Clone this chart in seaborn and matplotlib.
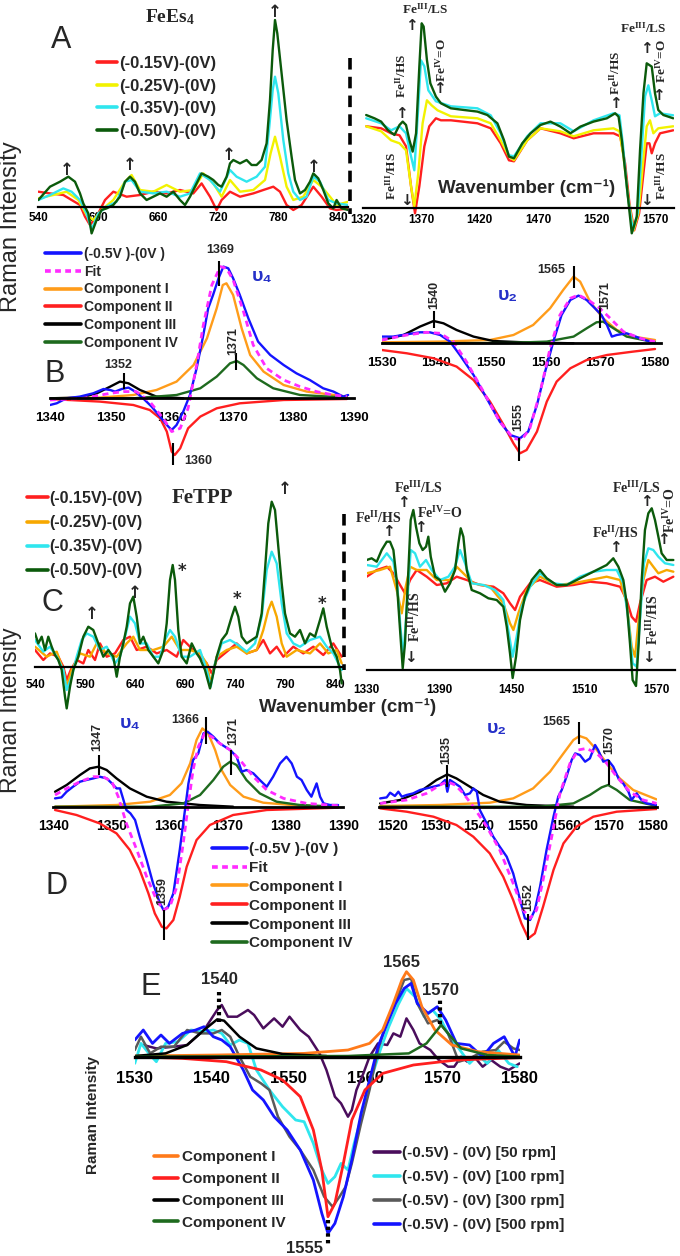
import seaborn as sns
import matplotlib.pyplot as plt
from matplotlib.lines import Line2D

W, H = 680, 1256
sns.set_style("white")
plt.rcParams['font.family'] = ['Liberation Sans', 'DejaVu Sans']
plt.rcParams['mathtext.fontset'] = 'custom'
plt.rcParams['mathtext.rm'] = 'Liberation Serif:bold'
plt.rcParams['mathtext.bf'] = 'Liberation Serif:bold'
plt.rcParams['mathtext.it'] = 'Liberation Serif:bold'

# ---------------- data (wavenumber, height) ----------------
# A: FeEs4, low-frequency window
a1_red = [(540, 15), (551.7, 13.3), (565, 11.7), (573.3, 6.7), (581.7, 1.7), (586.7, -10), (591.7, -18.3), (598.3, -10),
          (606.7, 6.7), (615, 15), (628.3, 10), (641.7, 11.7), (655, 15), (668.3, 13.3), (681.7, 16.7), (695, 13.3),
          (703.3, 23.3), (711.7, 10), (718.3, -3.3), (723.3, 6.7), (731.7, 15), (741.7, 10), (755, 13.3), (765, 16.7),
          (775, 20), (781.7, 15), (788.3, 1.7), (795, -3.3), (803.3, 1.7), (815, 20), (823.3, 10), (831.7, -1.7),
          (838.3, -3.3), (850, -1.7)]
a1_yellow = [(540, 8.3), (555, 11.7), (568.3, 15), (580, 6.7), (588.3, -8.3), (595, -13.3), (603.3, -3.3), (615, 6.7),
             (626.7, 25), (633.3, 31.7), (641.7, 16.7), (655, 15), (668.3, 21.7), (681.7, 15), (695, 16.7), (705, 33.3),
             (715, 23.3), (723.3, 10), (731.7, 26.7), (741.7, 15), (755, 16.7), (766.7, 26.7), (772.3, 53.3), (776.7, 70),
             (781.7, 50), (788.3, 20), (795, 6.7), (805, 10), (815, 26.7), (823.3, 20), (831.7, 10), (838.3, 1.7), (850, 5)]
a1_cyan = [(540, 6.7), (551.7, 11.7), (565, 18.3), (573.3, 15), (581.7, 6.7), (588.3, -6.7), (593.3, -23), (600, -6.7),
           (608.3, 0), (618.3, 5), (626.7, 25), (633.3, 26.7), (641.7, 15), (655, 13.3), (668.3, 15), (681.7, 10),
           (691.7, 13.3), (701.7, 33.3), (711.7, 26.7), (721.7, 15), (731.7, 36.7), (738.3, 30), (748.3, 25), (758.3, 30),
           (766.7, 40), (771, 80), (774.4, 116.7), (776.7, 130), (780, 113.3), (785, 66.7), (790, 33.3), (795, 15),
           (801.7, 6.7), (808.3, 10), (815, 30), (821.7, 25), (830, 6.7), (838.3, 3.3), (850, 1.7)]
a1_green = [(540, 6.7), (551.7, 20), (561.7, 25), (570, 30), (576.7, 25), (581.7, 13.3), (585, 3.3), (590, -6.7),
            (593.3, -26.7), (598.3, -13.3), (603.3, -3.3), (608.3, -1.7), (615, 1.7), (621.7, 10), (626.7, 25),
            (631.7, 30), (636.7, 25), (641.7, 13.3), (648.3, 6.7), (655, 10), (661.7, 13.3), (668.3, 10), (675, 15),
            (681.7, 6.7), (686.7, 1.7), (691.7, 10), (698.3, 23.3), (703.3, 33.3), (710, 30), (715, 26.7), (720, 21.7),
            (723.3, 20), (728.3, 30), (731.7, 43.3), (735, 46.7), (741.7, 43.3), (748.3, 46.7), (753.3, 41.7),
            (758.3, 41.7), (763.3, 46.7), (768.3, 63.3), (771.7, 106.7), (774.4, 156.7), (776.7, 186.7), (779, 173.3),
            (783.3, 133.3), (788.3, 86.7), (793.3, 50), (796.7, 26.7), (801.7, 13.3), (806.7, 16.7), (811.7, 25),
            (815, 33.3), (820, 28.3), (825, 16.7), (830, 3.3), (835, -1.7), (838.3, 6.7), (843.3, -1.7), (850, -3.3)]

# A: FeEs4, high-frequency window
a2_red = [(1322.8, 82), (1335.6, 80), (1344.1, 75), (1351.3, 73), (1356.9, 62), (1361.2, 22), (1364.6, -5), (1368.3, 22),
          (1372.6, 62), (1376.8, 82), (1382.5, 90), (1386.8, 88), (1395.3, 88), (1418, 85), (1429.4, 80), (1437.9, 65),
          (1445, 48), (1449.3, 47), (1460.6, 68), (1472, 80), (1489, 75), (1500.4, 70), (1517.4, 75), (1534.5, 75),
          (1540.2, 72), (1544.4, 45), (1548.1, 5), (1552.2, -22), (1556.4, -5), (1560.1, 35), (1562.9, 65),
          (1565.2, 65), (1567.2, 55), (1570, 65), (1574.3, 75), (1585.6, 78)]
a2_yellow = [(1322.8, 82), (1335.6, 77), (1344.1, 68), (1351.3, 65), (1356.9, 58), (1361.2, 22), (1364, 2), (1367.4, 35),
             (1371.1, 85), (1374.8, 108), (1378.8, 103), (1383.9, 98), (1395.3, 92), (1418, 90), (1429.4, 85),
             (1437.9, 68), (1445, 52), (1449.3, 48), (1460.6, 68), (1472, 80), (1489, 77), (1500.4, 72), (1517.4, 78),
             (1534.5, 80), (1539.6, 77), (1543, 52), (1547.3, 8), (1551.6, -22), (1555.8, -5), (1559.5, 42),
             (1562.9, 82), (1565.7, 88), (1568.6, 75), (1572.8, 80), (1585.6, 82)]
a2_cyan = [(1322.8, 90), (1335.6, 85), (1344.1, 78), (1351.3, 82), (1356.9, 75), (1361.2, 52), (1364, 38), (1366.9, 92),
           (1369.7, 148), (1372.6, 142), (1376, 118), (1382.5, 107), (1395.3, 102), (1418, 100), (1429.4, 93),
           (1437.9, 75), (1445, 53), (1449.3, 52), (1460.6, 72), (1472, 85), (1489, 85), (1500.4, 77), (1517.4, 88),
           (1534.5, 95), (1539.6, 93), (1542.4, 65), (1546.4, 15), (1551, -22), (1555.2, -5), (1558.6, 58),
           (1561.5, 112), (1564.3, 123), (1567.2, 108), (1570, 92), (1574.3, 95), (1585.6, 93)]
a2_green = [(1322.8, 93.3), (1329.9, 90), (1335.6, 86.7), (1341.3, 78.3), (1347, 73.3), (1351.3, 83.3), (1354.1, 86.7),
            (1356.9, 83.3), (1359.8, 68.3), (1362.6, 56.7), (1365.5, 75), (1368.3, 141.7), (1370.3, 185), (1372, 181.7),
            (1374.8, 148.3), (1377.7, 125), (1382.5, 111.7), (1386.8, 105), (1395.3, 100), (1406.6, 98.3),
            (1418, 96.7), (1426.5, 93.3), (1435.1, 85), (1440.7, 68.3), (1445, 51.7), (1449.3, 50), (1456.4, 65),
            (1463.5, 75), (1472, 83.3), (1480.5, 86.7), (1489, 81.7), (1497.6, 75), (1506.1, 81.7), (1517.4, 86.7),
            (1528.8, 90), (1535.9, 95), (1538.8, 91.7), (1541.6, 68.3), (1545.9, 21.7), (1550.1, -25), (1554.4, -8.3),
            (1557.2, 58.3), (1560.1, 115), (1562.9, 145), (1567.2, 141.7), (1570, 115), (1572.8, 98.3),
            (1577.1, 93.3), (1585.6, 90)]

# B: fit of FeEs4, nu4 and nu2
b1_data = [(1340, -6.7), (1341.1, -5), (1342.7, 0), (1344.9, 1.7), (1347.1, 5), (1348.8, 9.3), (1349.9, 8.3),
           (1350.7, 6.7), (1351.8, 9.3), (1352.9, 10.7), (1354, 6.7), (1355.3, 0), (1356.7, -8.3), (1358.1, -18.3),
           (1359.2, -26.7), (1360, -31.7), (1360.8, -26.7), (1361.9, -13.3), (1363, 3.3), (1364.1, 30), (1365.2, 63.3),
           (1366, 90), (1366.8, 103.3), (1367.7, 120), (1368.5, 131.7), (1369.3, 130), (1370.1, 120), (1371.2, 103.3),
           (1372.6, 80), (1374.2, 56.7), (1376.2, 43.3), (1378.4, 33.3), (1380.5, 25), (1382.7, 18.3), (1384.9, 10),
           (1386.6, 6.7), (1388.2, 1.7), (1389, 3.3)]
b1_fit = [(1340, -1.7), (1345.5, 0), (1349.9, 5), (1352.1, 6.7), (1354.2, 6.7), (1356.4, -3.3), (1358.6, -20),
          (1360, -33.3), (1361.4, -30), (1362.7, -10), (1364.1, 33.3), (1365.2, 73.3), (1366.6, 113.3), (1368, 131.7),
          (1369, 130), (1370.1, 118.3), (1371.8, 86.7), (1373.4, 53.3), (1375.6, 30), (1378.4, 18.3), (1381.1, 11.7),
          (1383.8, 6.7), (1386.6, 3.3), (1388.8, 1.7)]
b1_c1 = [(1340, 0), (1348.2, 0.7), (1353.7, 3.3), (1357.5, 8.3), (1360.8, 16.7), (1363.6, 33.3), (1365.8, 60),
         (1367.4, 90), (1368.4, 113.3), (1369, 115), (1370.1, 103.3), (1371.5, 70), (1372.9, 43.3), (1375.1, 26.7),
         (1378.4, 13.3), (1382.2, 6.7), (1388.8, 1.7)]
b1_c2 = [(1340, -0.7), (1348.2, -3.3), (1353.7, -6.7), (1356.4, -11.7), (1358.1, -20), (1359.2, -33.3), (1360, -53.3),
         (1360.5, -56.7), (1361.4, -50), (1362.7, -30), (1364.7, -18.3), (1367.4, -10), (1371.2, -5), (1378.4, -1.7),
         (1388.8, -0.7)]
b1_c3 = [(1340, 0), (1344.9, 0.7), (1347.7, 5), (1349.9, 11.7), (1351.5, 16.7), (1352.9, 15), (1354.8, 8.3),
         (1357.5, 1.7), (1361.9, 0)]
b1_c4 = [(1340, 0), (1353.7, 0), (1360.8, 3.3), (1364.7, 10), (1367.4, 21.7), (1369.6, 35), (1370.7, 37.3),
         (1371.8, 33.3), (1374, 20), (1376.7, 10), (1381.1, 3.3), (1388.8, 0.7)]

b2_data = [(1530, 6.7), (1532.1, 6.7), (1534.6, 9), (1537, 11), (1538.8, 11), (1540.7, 8.3), (1542.5, 1.7),
           (1544.3, -11.7), (1546.8, -31.7), (1549.2, -55), (1551.6, -78.3), (1553.5, -91.7), (1555.3, -95),
           (1556.8, -88.3), (1558.4, -61.7), (1559.9, -28.3), (1561.4, 1.7), (1562.9, 28.3), (1564.5, 43.3),
           (1566, 47.7), (1567.5, 43.3), (1569, 35), (1570.2, 28.3), (1571.2, 18.3), (1572.1, 6.7), (1573, 8.3),
           (1574.8, 10), (1577.3, 5), (1580, 0)]
b2_fit = [(1530, 3.3), (1534.6, 8.3), (1538.2, 11), (1540.7, 10), (1543.1, 1.7), (1545.5, -18.3), (1548.6, -48.3),
          (1551.6, -78.3), (1554.1, -95), (1555.6, -96.7), (1557.1, -85), (1559, -48.3), (1560.8, -5), (1562.6, 28.3),
          (1564.5, 45), (1566, 48.3), (1567.8, 43.3), (1569.9, 35), (1571.8, 25), (1574.2, 11.7), (1577.3, 5),
          (1580, 1.7)]
b2_c1 = [(1530, 1), (1540.7, 1.7), (1549.8, 3.3), (1554.1, 8.3), (1557.7, 18.3), (1560.8, 35), (1563.2, 53.3),
         (1565.1, 66.7), (1566.3, 61.7), (1568.1, 41.7), (1570.5, 25), (1573, 13.3), (1576, 6.7), (1580, 3.3)]
b2_c2 = [(1530, -6.7), (1534.6, -10), (1539.5, -15), (1543.7, -23.3), (1546.8, -36.7), (1549.8, -58.3),
         (1552.3, -81.7), (1554.1, -100), (1555.3, -110), (1556.5, -106.7), (1558.4, -88.3), (1560.2, -58.3),
         (1562, -38.3), (1564.5, -25), (1567.5, -16.7), (1571.2, -11.7), (1576, -8.3), (1580, -5.7)]
b2_c3 = [(1530, 3.3), (1534, 8.3), (1537, 16.7), (1539.5, 22.3), (1541.3, 20), (1543.7, 13.3), (1546.8, 6.7),
         (1550.4, 2.3), (1555.9, 1), (1565.1, 0)]
b2_c4 = [(1530, 0), (1552.9, 0.3), (1560.2, 1.7), (1565.1, 6.7), (1567.5, 15), (1569.3, 21), (1570.5, 21.7),
         (1572.4, 15), (1574.8, 6.7), (1580, 1)]

# C: FeTPP
c1_red = [(540, 16.7), (548.3, 6.7), (555, 13.3), (563.3, 10), (568.3, 0), (571.7, -13.3), (575.7, -3.3), (581.7, 6.7),
          (588.3, 3.3), (593.3, 16.7), (600, 6.7), (605, 23.3), (611.7, 10), (620, 13.3), (628.3, 26.7), (635, 30),
          (641.7, 16.7), (651.7, 20), (661.7, 13.3), (671.7, 16.7), (681.7, 10), (688.3, 26.7), (698.3, 16.7),
          (705, 10), (711.7, 3.3), (716.7, -6.7), (721.7, 6.7), (731.7, 15), (741.7, 23.3), (751.7, 13.3),
          (761.7, 16.7), (768.3, 26.7), (775, 13.3), (781.7, 20), (788.3, 10), (798.3, 20), (808.3, 13.3),
          (818.3, 20), (828.3, 11.7), (838.3, 23.3), (846.7, 10)]
c1_orange = [(540, 20), (551.7, 10), (561.7, 15), (568.3, -3.3), (571.7, -20), (576.7, -3.3), (585, 13.3), (595, 10),
             (601.7, 23.3), (611.7, 13.3), (621.7, 10), (631.7, 23.3), (638.3, 30), (645, 16.7), (658.3, 16.7),
             (668.3, 20), (676.7, 30), (685, 16.7), (695, 16.7), (705, 13.3), (711.7, 3.3), (715.7, -16.7),
             (721.7, 10), (731.7, 16.7), (741.7, 20), (751.7, 13.3), (761.7, 16.7), (768.3, 36.7), (773.3, 56.7),
             (776.7, 65), (781.7, 50), (786.7, 23.3), (791.7, 10), (801.7, 16.7), (815, 13.3), (825, 23.3),
             (833.3, 13.3), (841.7, 16.7), (846.7, 3.3)]
c1_cyan = [(540, 26.7), (548.3, 15), (555, 20), (561.7, 10), (568.3, -3.3), (571.7, -23.3), (576.7, -10), (581.7, 10),
           (586.7, 26.7), (591.7, 33.3), (598.3, 30), (605, 16.7), (611.7, 20), (620, 3.3), (625, 10), (630, 30),
           (635, 50), (640, 43.3), (645, 23.3), (651.7, 23.3), (658.3, 10), (665, 10), (670, 26.7), (675, 36.7),
           (680, 30), (686.7, 10), (695, 10), (705, 16.7), (711.7, -3.3), (715.7, -20), (720, 3.3), (726.7, 23.3),
           (735, 26.7), (743.3, 21.7), (751.7, 15), (760, 23.3), (766.7, 50), (771.7, 96.7), (776.7, 115),
           (781.7, 103.3), (786.7, 63.3), (791.7, 33.3), (798.3, 23.3), (805, 20), (815, 26.7), (825, 30),
           (831.7, 20), (838.3, 13.3), (846.7, -3.3)]
c1_green = [(540, 33.3), (543.3, 23.3), (546.7, 30), (550, 16.7), (553.3, 30), (556.7, 20), (560, 11.7), (563.3, 6.7),
            (566.7, -3.3), (570, -30), (571.7, -41.7), (575, -20), (578.3, -3.3), (583.3, 10), (588.3, 30),
            (593.3, 40), (598.3, 36.7), (603.3, 23.3), (608.3, 10), (613.3, 16.7), (618.3, 10), (621.7, -10),
            (625, 10), (628.3, 23.3), (631.7, 40), (635, 63.3), (638.3, 70), (641.7, 50), (645, 23.3), (648.3, 30),
            (653.3, 16.7), (658.3, 10), (663.3, 3.3), (668.3, 16.7), (671.7, 43.3), (675, 86.7), (677.7, 101.7),
            (680, 86.7), (683.3, 36.7), (686.7, 10), (691.7, 3.3), (696.7, 23.3), (701.7, 13.3), (705, 8.3),
            (710, -3.3), (715, -21.7), (718.3, -6.7), (721.7, 10), (726.7, 26.7), (731.7, 33.3), (736.7, 50),
            (740, 60), (743.3, 50), (746.7, 30), (751.7, 23.3), (756.7, 26.7), (761.7, 30), (766.7, 53.3),
            (770, 96.7), (773.3, 143.3), (776.7, 165), (780, 156.7), (783.3, 120), (786.7, 83.3), (790, 53.3),
            (795, 33.3), (800, 30), (805, 36.7), (810, 23.3), (815, 33.3), (820, 30), (825, 46.7), (828.3, 58.3),
            (831.7, 40), (836.7, 20), (841.7, 10), (845, -3.3), (846.7, -16.7)]

c2_red = [(1330, 93.3), (1338.3, 100), (1346.6, 103.3), (1352.1, 96.7), (1357.6, 85), (1361.7, 76.7), (1365.9, 90),
          (1371.4, 100), (1379.7, 93.3), (1388, 85), (1396.2, 86.7), (1404.5, 93.3), (1412.8, 90), (1423.8, 85),
          (1434.9, 83.3), (1443.1, 76.7), (1448.6, 66.7), (1452.8, 60), (1456.9, 73.3), (1465.2, 86.7), (1473.4, 90),
          (1487.2, 83.3), (1501, 85), (1514.8, 88.3), (1528.6, 86.7), (1539.7, 83.3), (1545.2, 70), (1549.3, 53.3),
          (1552.9, 48.3), (1556.2, 66.7), (1561.7, 90), (1568.6, 93.3), (1575.5, 88.3), (1583.8, 93.3)]
c2_orange = [(1330, 96.7), (1341, 100), (1349.3, 103.3), (1354.8, 80), (1359, 56.7), (1362.3, 83.3), (1365.9, 103.3),
             (1371.4, 100), (1379.7, 100), (1388, 90), (1399, 90), (1404.5, 103.3), (1410, 96.7), (1418.3, 86.7),
             (1432.1, 83.3), (1443.1, 66.7), (1448.6, 46.7), (1451.4, 40), (1455.5, 56.7), (1462.4, 80),
             (1473.4, 93.3), (1487.2, 85), (1501, 86.7), (1514.8, 90), (1528.6, 93.3), (1539.7, 90), (1545.2, 66.7),
             (1549.3, 23.3), (1552.1, 13.3), (1554.8, 46.7), (1559, 90), (1563.1, 110), (1567.2, 103.3),
             (1571.4, 96.7), (1578.3, 100), (1583.8, 98.3)]
c2_cyan = [(1330, 105), (1338.3, 103.3), (1346.6, 116.7), (1352.1, 108.3), (1355.4, 83.3), (1358.1, 40), (1360.3, 13.3),
           (1363.1, 60), (1366.4, 120), (1370, 116.7), (1374.1, 103.3), (1379.1, 110), (1383.8, 100), (1390.7, 90),
           (1397.6, 93.3), (1403.1, 103.3), (1407.2, 120), (1411.4, 106.7), (1416.9, 86.7), (1426.6, 85),
           (1436.2, 80), (1443.1, 70), (1447.2, 40), (1450.8, 13.3), (1454.1, 33.3), (1458.3, 63.3), (1465.2, 83.3),
           (1473.4, 96.7), (1484.5, 86.7), (1495.5, 85), (1506.6, 93.3), (1517.6, 98.3), (1528.6, 100),
           (1536.9, 100), (1542.4, 86.7), (1546.6, 50), (1550.1, 6.7), (1553.4, 3.3), (1556.2, 50), (1559.5, 106.7),
           (1563.1, 121.7), (1567.2, 120), (1571.4, 113.3), (1576.9, 106.7), (1583.8, 105)]
c2_green = [(1330, 110), (1334.1, 111.7), (1338.3, 108.3), (1342.4, 120), (1346.6, 128.3), (1349.3, 128.3),
            (1352.1, 120), (1354.8, 90), (1357.6, 40), (1359.8, 1.7), (1361.7, 26.7), (1364.5, 100), (1366.4, 150),
            (1368.6, 160), (1370.8, 143.3), (1373.6, 126.7), (1376.3, 120), (1379.1, 123.3), (1381, 133.3),
            (1383, 113.3), (1386.6, 93.3), (1390.7, 90), (1394.8, 78.3), (1399, 86.7), (1403.1, 100),
            (1405.9, 126.7), (1407.8, 141.7), (1410, 133.3), (1412.8, 100), (1416.9, 80), (1423.8, 76.7),
            (1430.7, 71.7), (1437.6, 70), (1443.1, 63.3), (1445.9, 43.3), (1448.6, 16.7), (1450.8, -8), (1453.6, 13.3),
            (1456.9, 50), (1461, 73.3), (1466.6, 90), (1473.4, 100), (1479, 91.7), (1487.2, 85), (1495.5, 85),
            (1503.8, 90), (1512.1, 95), (1520.3, 100), (1528.6, 105), (1534.1, 111.7), (1538.3, 103.3),
            (1542.4, 90), (1545.2, 66.7), (1547.9, 26.7), (1550.1, -10), (1552.9, -16), (1555.1, 26.7),
            (1557.6, 90), (1560.3, 140), (1563.1, 156.7), (1565.9, 161.7), (1568.6, 150), (1571.4, 133.3),
            (1574.1, 116.7), (1578.3, 110), (1583.8, 110)]

# D: fit of FeTPP, nu4 and nu2
d1_data = [(1340.3, 8.3), (1341.4, 9.3), (1342.3, 15), (1343.4, 20), (1344.6, 25), (1345.7, 26.7), (1346.9, 28.3),
           (1348, 30), (1349.2, 28.3), (1350.1, 23.3), (1350.9, 18.3), (1351.5, 18.3), (1352.1, 6.7), (1352.6, -3.3),
           (1353.3, -6.7), (1354.1, -13.3), (1354.9, -30), (1356.1, -53.3), (1357.2, -76.7), (1358.4, -96.7),
           (1359, -103.3), (1359.8, -100), (1360.7, -86.7), (1361.8, -43.3), (1362.7, -3.3), (1363.3, 23.3),
           (1364.1, 46.7), (1365, 53.3), (1365.9, 73.3), (1366.6, 75), (1367.6, 70), (1368.7, 63.3), (1370.5, 56.7),
           (1371.6, 50), (1372.5, 35), (1373.3, 36.7), (1374.5, 33.3), (1375.6, 26.7), (1376.8, 20), (1377.9, 30),
           (1379.1, 43.3), (1380.2, 50), (1381.1, 43.3), (1382, 30), (1382.8, 26.7), (1383.7, 16.7), (1384.5, 10),
           (1385.4, 23.3), (1386, 10), (1386.6, 3.3), (1387.7, 1.7), (1389.1, 1.7)]
d1_fit = [(1340.3, 11.7), (1342.3, 18.3), (1344.6, 25), (1346.9, 30), (1348.6, 30), (1350.1, 25), (1351.2, 10),
          (1352.6, -16.7), (1354.4, -43.3), (1356.1, -70), (1357.8, -93.3), (1359, -103.3), (1360.1, -100),
          (1361.3, -80), (1362.4, -36.7), (1363.3, 3.3), (1364.1, 36.7), (1365, 60), (1366.1, 73.3), (1367.3, 70),
          (1368.7, 63.3), (1370.5, 56.7), (1372.2, 46.7), (1374.5, 30), (1376.8, 16.7), (1379.7, 8.3), (1383.7, 3.3),
          (1389.1, 1)]
d1_c1 = [(1340.3, 0), (1350.9, 1.7), (1356.7, 5), (1360.1, 11.7), (1362.1, 23.3), (1363.6, 43.3), (1364.7, 66.7),
         (1365.7, 78.3), (1366.7, 73.3), (1367.9, 56.7), (1369, 36.7), (1370.5, 21.7), (1372.8, 10), (1376.2, 4),
         (1382.5, 1), (1389.1, 0)]
d1_c2 = [(1340.3, -3.3), (1344, -8.3), (1348, -16.7), (1350.9, -26.7), (1353.2, -43.3), (1354.9, -63.3),
         (1356.4, -86.7), (1357.5, -106.7), (1358.7, -120), (1359.5, -121.7), (1360.7, -113.3), (1361.8, -90),
         (1363, -60), (1364.7, -33.3), (1367, -18.3), (1371, -8.3), (1376.8, -3.3), (1389.1, -1)]
d1_c3 = [(1340.3, 15), (1342.3, 21.7), (1344.6, 31.7), (1346.3, 38.3), (1347.8, 40), (1349.2, 36.7), (1350.9, 28.3),
         (1353.2, 18.3), (1356.1, 10), (1359.5, 5), (1365.3, 1.7), (1371, 0)]
d1_c4 = [(1340.3, 0), (1356.7, 0), (1362.4, 3.3), (1365.3, 11.7), (1367.6, 26.7), (1369.3, 40), (1370.5, 45),
         (1371.6, 41.7), (1373.3, 26.7), (1375.6, 13.3), (1378.5, 5), (1382.5, 1.7), (1389.1, 0)]

d2_data = [(1517.2, 8.3), (1518.7, 9.3), (1519.5, 14), (1520.6, 10.7), (1521.4, 15), (1522.2, 10), (1523.3, 11.7),
           (1524.8, 13.3), (1526.4, 16.7), (1527.9, 18.3), (1529.5, 20), (1531, 21.7), (1532.2, 26.7), (1532.7, 15),
           (1533.3, 26.7), (1534.5, 23.3), (1535.6, 20), (1536.8, 11.7), (1537.9, 13.3), (1538.7, 18.3), (1539.5, 15),
           (1540.2, -3.3), (1541.8, -16.7), (1543.3, -30), (1544.8, -40), (1546.4, -50), (1547.9, -66.7),
           (1549.5, -93.3), (1550.6, -111.7), (1551.8, -113.3), (1552.9, -103.3), (1554.1, -80), (1555.6, -43.3),
           (1557.2, -10), (1558.3, 10), (1559.1, 16.7), (1560.2, 30), (1561.4, 46.7), (1562.2, 53.3), (1563.3, 51.7),
           (1564.5, 45), (1565.6, 48.3), (1566.8, 61.7), (1567.5, 56.7), (1568.7, 45), (1569.8, 46.7), (1571, 40),
           (1572.2, 28.3), (1573.3, 23.3), (1574.5, 15), (1575.2, 6.7), (1576.4, 13.3), (1577.5, 6.7),
           (1578.7, 3.3), (1581, 1.7)]
d2_fit = [(1517.2, 3.3), (1523.3, 6.7), (1527.9, 13.3), (1531, 21.7), (1532.7, 25), (1534.5, 21.7), (1536.4, 13.3),
          (1538.7, 0), (1541.8, -20), (1544.8, -43.3), (1547.9, -76.7), (1550.2, -103.3), (1551.8, -111.7),
          (1553.3, -103.3), (1554.8, -73.3), (1556.8, -30), (1558.7, 13.3), (1561, 43.3), (1562.9, 56.7),
          (1564.8, 58.3), (1567.2, 53.3), (1569.5, 43.3), (1571.8, 30), (1574.8, 15), (1577.9, 6.7), (1581, 3.3)]
d2_c1 = [(1517.2, 0.7), (1531, 1.7), (1542.5, 4), (1547.9, 8.3), (1552.5, 18.3), (1556.4, 35), (1559.5, 53.3),
         (1561.8, 66.7), (1563.2, 70.7), (1564.8, 68.3), (1567.2, 56.7), (1569.5, 43.3), (1572.5, 28.3),
         (1575.6, 16.7), (1581, 7.3)]
d2_c2 = [(1517.2, -1.7), (1523.3, -5), (1529.5, -10), (1534.8, -18.3), (1538.7, -30), (1542.5, -46.7), (1545.6, -70),
         (1547.9, -93.3), (1549.8, -116.7), (1551.4, -131.7), (1552.9, -126.7), (1554.8, -100), (1557.2, -63.3),
         (1559.5, -36.7), (1562.5, -20), (1566.4, -10), (1571.8, -5), (1581, -2.3)]
d2_c3 = [(1517.2, 3.3), (1521.8, 6.7), (1526.4, 15), (1530.2, 26.7), (1532.7, 32.3), (1534.8, 28.3), (1537.9, 20),
         (1541, 11.7), (1544.8, 5), (1551, 1.7), (1561.8, 0)]
d2_c4 = [(1517.2, 0), (1554.1, 0), (1561.8, 3.3), (1565.6, 11.7), (1568.3, 19.3), (1569.8, 21.7), (1571.8, 16.7),
         (1574.8, 6.7), (1581, 0.7)]

# E: rotation-rate series with the nu2 components
e_c1 = [(1530, 0.7), (1540.7, 1.7), (1552, 3.3), (1557.7, 6.7), (1560.5, 13.3), (1562.2, 26.7), (1563.6, 53.3),
        (1564.7, 76.7), (1565.3, 85), (1566.2, 76.7), (1567.3, 50), (1569, 26.7), (1571.2, 11.7), (1574.6, 5),
        (1580, 1.7)]
e_c2 = [(1530, 0), (1536.2, -1.7), (1541.9, -5), (1546.4, -13.3), (1549.2, -23.3), (1551.5, -40), (1553.2, -73.3),
        (1554.3, -113.3), (1555.1, -160), (1556, -146.7), (1557.1, -106.7), (1558.2, -63.3), (1559.9, -33.3),
        (1562.2, -16.7), (1566.2, -8.3), (1571.8, -3.3), (1580, -1)]
e_c3 = [(1530, 0.7), (1534, 3.3), (1536.8, 11.7), (1539, 26.7), (1540.7, 37.3), (1541.6, 36), (1543.6, 20),
        (1545.8, 8.3), (1549.2, 2.7), (1554.9, 0.7)]
e_c4 = [(1530, 0), (1557.7, 0.7), (1565.6, 3.3), (1567.9, 13.3), (1569.3, 26.7), (1569.8, 31.7), (1570.7, 23.3),
        (1572.4, 8.3), (1575.8, 1.7), (1580, 0)]
e_50 = [(1531.1, 11.7), (1532.8, 8.3), (1535.1, 10), (1536.8, 11.7), (1539, 26.7), (1540.7, 46.7), (1541.3, 51.7),
        (1542.1, 40), (1543.3, 40), (1544.7, 46.7), (1545.5, 41.7), (1546.7, 28.3), (1548.1, 38.3), (1549.2, 30),
        (1550.1, 40), (1551.5, 26.7), (1552.6, 20), (1554, 3.3), (1554.9, -13.3), (1556, -40), (1556.8, -46.7),
        (1557.7, -60), (1558.2, -53.3), (1558.8, -33.3), (1559.7, -16.7), (1560.5, 0), (1561.6, 13.3),
        (1562.8, 11.7), (1563.6, 23.3), (1564.5, 20), (1565.3, 38.3), (1566.2, 26.7), (1567, 13.3), (1568.4, 6.7),
        (1569.5, -3.3), (1570.7, -10), (1571.5, -10), (1572.4, 0), (1573.2, -5), (1574.1, 0), (1575.2, -10),
        (1576.3, -3.3), (1577.5, -10), (1578.6, -13.3), (1580, -6.7)]
e_100 = [(1530, -6.7), (1530.8, 13.3), (1532, 1.7), (1532.8, -5), (1534, 13.3), (1535.6, 15), (1537.3, 26.7),
         (1539, 25), (1540.2, 26.7), (1541.3, 23.3), (1542.4, 11.7), (1543.6, 16.7), (1544.7, 13.3), (1545.8, -13.3),
         (1547.5, -33.3), (1549.2, -50), (1550.9, -63.3), (1552, -65), (1553.2, -86.7), (1554.3, -113.3),
         (1555.1, -126.7), (1556, -120), (1556.8, -106.7), (1557.7, -113.3), (1558.5, -86.7), (1559.7, -53.3),
         (1560.8, -20), (1561.9, 6.7), (1563, 30), (1564.2, 51.7), (1565.3, 68.3), (1566.4, 60), (1567.6, 40),
         (1568.7, 46.7), (1569.8, 36.7), (1570.9, 20), (1572.1, 8.3), (1573.5, -6.7), (1574.6, 1.7), (1575.8, -6.7),
         (1577.2, 6.7), (1578.6, -6.7), (1579.7, -10)]
e_300 = [(1530, 6.7), (1530.8, 20), (1532, 3.3), (1533.4, 10), (1535.1, 10), (1536.8, 26.7), (1538.5, 23.3),
         (1540.2, 23.3), (1541.3, 26.7), (1542.4, 20), (1543.6, 0), (1545, -20), (1546.4, -26.7), (1547.5, -33.3),
         (1548.6, -60), (1550.1, -80), (1551.5, -93.3), (1553.2, -113.3), (1554.6, -140), (1555.7, -150),
         (1556.6, -140), (1557.4, -130), (1558.2, -106.7), (1559.4, -66.7), (1560.5, -33.3), (1561.6, 6.7),
         (1562.8, 36.7), (1563.9, 55), (1565, 76.7), (1565.9, 78.3), (1566.7, 53.3), (1568.1, 33.3), (1569.3, 36.7),
         (1570.7, 23.3), (1572.1, -5), (1573.5, -1.7), (1575.2, 5), (1576.9, 6.7), (1578, 15), (1579.2, 8.3),
         (1580, 6.7)]
e_500 = [(1530, 16.7), (1531.1, 26.7), (1532.3, 13.3), (1533.4, 21.7), (1534.5, 13.3), (1536.2, 23.3), (1537.9, 26.7),
         (1539, 30), (1540.2, 20), (1541.3, 16.7), (1542.4, 10), (1544.1, -13.3), (1545.3, -33.3), (1546.7, -43.3),
         (1548.1, -60), (1549.8, -73.3), (1551.5, -93.3), (1553.2, -123.3), (1554.3, -156.7), (1555.1, -176.7),
         (1556, -166.7), (1557.1, -140), (1558.2, -103.3), (1559.4, -56.7), (1560.5, -23.3), (1561.6, 10),
         (1562.8, 33.3), (1563.9, 53.3), (1565, 68.3), (1565.9, 73.3), (1566.7, 53.3), (1568.1, 43.3), (1569.3, 50),
         (1570.4, 36.7), (1571.8, 13.3), (1573.5, 11.7), (1575.2, 0), (1576.6, 13.3), (1578, 20), (1579.4, 0),
         (1580, 16.7)]

ticks_a1 = [540, 600, 660, 720, 780, 840]
ticks_a2 = [1320, 1370, 1420, 1470, 1520, 1570]
ticks_b1 = [1340, 1350, 1360, 1370, 1380, 1390]
ticks_b2 = [1530, 1540, 1550, 1560, 1570, 1580]
ticks_c1 = [540, 590, 640, 690, 740, 790, 840]
ticks_c2 = [1330, 1390, 1450, 1510, 1570]
ticks_d2 = [1520, 1530, 1540, 1550, 1560, 1570, 1580]

volt_labels = ['(-0.15V)-(0V)', '(-0.25V)-(0V)', '(-0.35V)-(0V)', '(-0.50V)-(0V)']
fit_labels = ['(-0.5V )-(0V )', 'Fit', 'Component I', 'Component II', 'Component III', 'Component IV']
comp_labels = ['Component I', 'Component II', 'Component III', 'Component IV']
rpm_labels = ['(-0.5V) - (0V) [50 rpm]', '(-0.5V) - (0V) [100 rpm]', '(-0.5V) - (0V) [300 rpm]',
              '(-0.5V) - (0V) [500 rpm]']

# peak markers: (position, low, high) and labels: (text, x, y, rotation)
b1_marks = [(1367.8, 112, 137), (1370.6, 28, 45), (1352.1, 9, 25), (1360.2, -45, -67)]
b1_text = [('1369', 1367.9, 148, 0), ('1371', 1370.1, 57, 90), ('1352', 1351.2, 33, 0), ('1360', 1364.3, -63, 0)]
b2_marks = [(1565.1, 55, 77), (1539.5, 15, 32), (1569.9, 15, 35), (1555.1, -95, -118)]
b2_text = [('1565', 1561.1, 73, 0), ('1540', 1539.6, 48, 90), ('1571', 1570.9, 48, 90), ('1555', 1555.0, -74, 90)]
d1_marks = [(1347.8, 32, 52), (1366.4, 63, 90), (1370.7, 32, 57), (1359.0, -103, -133)]
d1_text = [('1347', 1347.6, 70, 90), ('1366', 1362.7, 87, 0), ('1371', 1371.0, 76, 90), ('1359', 1358.7, -84, 90)]
d2_marks = [(1563.2, 63, 85), (1532.7, 20, 42), (1569.9, 22, 47), (1551.4, -107, -133)]
d2_text = [('1565', 1557.9, 85, 0), ('1535', 1532.5, 57, 90), ('1570', 1570.1, 67, 90), ('1552', 1551.4, -90, 90)]
e_marks = [(1541.0, 35, 67), (1569.7, 33, 57), (1555.1, -163, -188)]
e_text = [('1540', 1541.0, 77, 0), ('1565', 1564.7, 94, 0), ('1570', 1569.7, 66, 0), ('1555', 1552.0, -192, 0)]

a2_fe = [('Fe$^{\\rm III}$/LS', 1373.6, 199, 0), ('Fe$^{\\rm II}$/HS', 1352.7, 132, 90), ('Fe$^{\\rm IV}$=O', 1386.8, 148, 90),
         ('Fe$^{\\rm III}$/HS', 1344.1, 32, 90), ('Fe$^{\\rm II}$/HS', 1535.9, 135, 90), ('Fe$^{\\rm III}$/LS', 1560.1, 180, 0),
         ('Fe$^{\\rm IV}$=O', 1575.7, 147, 90), ('Fe$^{\\rm III}$/HS', 1575.7, 32, 90)]
a2_arrows = [('↑', 1361.2, 183), ('↑', 1352.7, 95), ('↑', 1385.3, 120), ('↓', 1356.9, 8), ('↑', 1535.9, 105),
             ('↑', 1562.9, 160), ('↑', 1572.8, 113), ('↓', 1562.9, 8)]
c2_fe = [('Fe$^{\\rm II}$/HS', 1339.7, 152, 0), ('Fe$^{\\rm III}$/LS', 1372.8, 182, 0), ('Fe$^{\\rm IV}$=O', 1390.3, 157, 0),
         ('Fe$^{\\rm III}$/HS', 1370.0, 53, 90), ('Fe$^{\\rm II}$/HS', 1535.5, 137, 0), ('Fe$^{\\rm III}$/LS', 1553.4, 182, 0),
         ('Fe$^{\\rm IV}$=O', 1581.0, 160, 90), ('Fe$^{\\rm III}$/HS', 1567.2, 50, 90)]
c2_arrows = [('↑', 1347.9, 138), ('↑', 1360.3, 167), ('↑', 1374.1, 143), ('↓', 1365.9, 13), ('↑', 1535.5, 123),
             ('↑', 1561.7, 168), ('↑', 1575.5, 130), ('↓', 1563.1, 13)]
a1_arrows = [('↑', 568.3, 37), ('↑', 631.7, 42), ('↑', 730, 52), ('↑', 776.7, 195), ('↑', 815, 40)]
c1_marks = [('↑', 596.7, 53), ('↑', 640, 74), ('↑', 790, 178), ('*', 686.7, 96), ('*', 741.7, 68), ('*', 826.7, 63)]

# colours
RED, YEL, ORG, CYA, DGR = '#ff1f1f', '#f2f200', '#f7a800', '#2fe6ee', '#0b5a0b'
BLU, MAG, C1, C3, C4 = '#1414ff', '#ff2bff', '#ff9c1a', 'black', '#1e6a1e'
E1, PUR, GRY = '#ff7a1a', '#4a0d5c', '#5a5a5a'

fig = plt.figure(figsize=(W / 100, H / 100), dpi=100)


def fpos(x, y):
    return x / W, 1 - y / H


def panel(pxl, pxr, xlim, base, ylim, ticks, fs, pad, lw=1.8, ticklen=0):
    ax = fig.add_axes([pxl / W, 1 - (base - ylim[0]) / H, (pxr - pxl) / W, (ylim[1] - ylim[0]) / H])
    ax.patch.set_alpha(0)
    for s in ('left', 'right', 'top'):
        ax.spines[s].set_visible(False)
    ax.spines['bottom'].set_position(('data', 0))
    ax.spines['bottom'].set_linewidth(lw)
    ax.spines['bottom'].set_color('black')
    ax._lims = (xlim, ylim)
    ax._tk = (ticks, fs, pad, ticklen)
    return ax


def trace(ax, pts, color, lw, dashed=False):
    xs = [p[0] for p in pts]
    ys = [p[1] for p in pts]
    kw = dict(dashes=(2.2, 1.6)) if dashed else {}
    sns.lineplot(x=xs, y=ys, ax=ax, color=color, lw=lw, sort=False, estimator=None, legend=False, **kw)


def finish(ax):
    xlim, ylim = ax._lims
    ticks, fs, pad, ticklen = ax._tk
    ax.set_xlim(*xlim)
    ax.set_ylim(*ylim)
    ax.set_yticks([])
    ax.set_ylabel('')
    ax.set_xlabel('')
    ax.set_xticks(ticks, labels=[str(t) for t in ticks], fontweight='bold', fontsize=fs)
    ax.tick_params(axis='x', length=ticklen, width=1.5, pad=pad, direction='out', colors='black')


def legend(labels, colors, x, y, fs, hl, tp, ls, dashed_idx=None, lw=2.6):
    hs = []
    for i, c in enumerate(colors):
        if i == dashed_idx:
            hs.append(Line2D([], [], color=c, lw=lw, linestyle=(0, (1.6, 1.2))))
        else:
            hs.append(Line2D([], [], color=c, lw=lw))
    fig.legend(hs, labels, loc='upper left', bbox_to_anchor=fpos(x, y), frameon=False, borderpad=0,
               borderaxespad=0, handlelength=hl, handletextpad=tp, labelspacing=ls,
               prop={'weight': 'bold', 'size': fs})


def fe(ax, items, fs):
    for s, x, y, r in items:
        ax.text(x, y, s, rotation=r, ha='center', va='center', fontsize=fs, family='Liberation Serif',
                fontweight='bold')


def marks(ax, items, fs=12):
    for s, x, y in items:
        ax.text(x, y, s, ha='center', va='center', fontsize=fs, fontweight='bold', family=['DejaVu Sans'])


def peaks(ax, mk, tx, fs, dotted=False, lw=1.5):
    for x, lo, hi in mk:
        if dotted:
            ax.plot([x, x], [lo, hi], color='black', lw=lw, dashes=(0.8, 0.8), zorder=4)
        else:
            ax.vlines(x, lo, hi, color='black', lw=lw)
    for s, x, y, r in tx:
        ax.text(x, y, s, rotation=r, ha='center', va='center', fontsize=fs, fontweight='bold')


# ---------------- A ----------------
axA1 = panel(38.3, 348.3, (540, 850), 206.7, (-30, 200), ticks_a1, 8.5, 4, lw=1.6)
for pts, c in ((a1_red, RED), (a1_yellow, YEL), (a1_cyan, CYA), (a1_green, DGR)):
    trace(axA1, pts, c, 1.7)
marks(axA1, a1_arrows)

axA2 = panel(362.9, 673.7, (1321, 1586), 208.3, (-30, 200), ticks_a2, 8.5, 4, lw=1.6)
for pts, c in ((a2_red, RED), (a2_yellow, YEL), (a2_cyan, CYA), (a2_green, DGR)):
    trace(axA2, pts, c, 1.7)
fe(axA2, a2_fe, 9.5)
marks(axA2, a2_arrows, 11)
legend(volt_labels, [RED, YEL, CYA, DGR], 97, 56, 12, 1.2, 0.1, 0.46)

# ---------------- B ----------------
axB1 = panel(50, 354.2, (1340, 1390), 398.3, (-70, 150), ticks_b1, 9.5, 10, lw=2)
for pts, c in ((b1_c1, C1), (b1_c2, RED), (b1_c3, C3), (b1_c4, C4)):
    trace(axB1, pts, c, 1.7)
trace(axB1, b1_data, BLU, 1.7)
trace(axB1, b1_fit, MAG, 2.0, dashed=True)
peaks(axB1, b1_marks, b1_text, 9)
axB1.text(1374.8, 122, 'υ₄', color='#2530c8', fontsize=14, fontweight='bold', ha='center', va='center')

axB2 = panel(381.7, 660.5, (1530, 1581), 343.3, (-125, 85), ticks_b2, 9.5, 10, lw=2)
for pts, c in ((b2_c1, C1), (b2_c2, RED), (b2_c3, C3), (b2_c4, C4)):
    trace(axB2, pts, c, 1.7)
trace(axB2, b2_data, BLU, 1.7)
trace(axB2, b2_fit, MAG, 2.0, dashed=True)
peaks(axB2, b2_marks, b2_text, 9)
axB2.text(1553.0, 48, 'υ₂', color='#2530c8', fontsize=14, fontweight='bold', ha='center', va='center')
legend(fit_labels, [BLU, MAG, C1, RED, C3, C4], 45, 247, 10, 2.6, 0.2, 0.27, dashed_idx=1)

# ---------------- C ----------------
axC1 = panel(35, 343, (540, 848), 666.7, (-50, 185), ticks_c1, 8.5, 9, lw=1.6)
for pts, c in ((c1_red, RED), (c1_orange, ORG), (c1_cyan, CYA), (c1_green, DGR)):
    trace(axC1, pts, c, 1.7)
marks(axC1, c1_marks)

axC2 = panel(366.7, 674.8, (1330, 1585), 670, (-25, 190), ticks_c2, 8.5, 6, lw=1.6, ticklen=4)
for pts, c in ((c2_red, RED), (c2_orange, ORG), (c2_cyan, CYA), (c2_green, DGR)):
    trace(axC2, pts, c, 1.7)
fe(axC2, c2_fe, 10)
marks(axC2, c2_arrows, 11)
legend(volt_labels, [RED, ORG, CYA, DGR], 27, 491, 11.5, 1.3, 0.1, 0.57)

# ---------------- D ----------------
axD1 = panel(53.3, 343.3, (1340, 1390), 806.7, (-140, 95), ticks_b1, 10, 9, lw=2)
for pts, c in ((d1_c1, C1), (d1_c2, RED), (d1_c3, C3), (d1_c4, C4)):
    trace(axD1, pts, c, 1.7)
trace(axD1, d1_data, BLU, 1.7)
trace(axD1, d1_fit, MAG, 2.0, dashed=True)
peaks(axD1, d1_marks, d1_text, 9)
axD1.text(1353.2, 83, 'υ₄', color='#2530c8', fontsize=14, fontweight='bold', ha='center', va='center')

axD2 = panel(379.3, 656.6, (1517, 1581), 806.7, (-140, 95), ticks_d2, 10, 9, lw=2)
for pts, c in ((d2_c1, C1), (d2_c2, RED), (d2_c3, C3), (d2_c4, C4)):
    trace(axD2, pts, c, 1.7)
trace(axD2, d2_data, BLU, 1.7)
trace(axD2, d2_fit, MAG, 2.0, dashed=True)
peaks(axD2, d2_marks, d2_text, 9)
axD2.text(1544.1, 78, 'υ₂', color='#2530c8', fontsize=14, fontweight='bold', ha='center', va='center')
legend(fit_labels, [BLU, MAG, C1, RED, C3, C4], 212, 842, 11, 2.3, 0.12, 0.32, dashed_idx=1)

# ---------------- E ----------------
axE = panel(134.8, 519.6, (1530, 1580), 1056.7, (-195, 100), ticks_b2, 12, 10, lw=2.4)
for pts, c, w in ((e_50, PUR, 1.8), (e_100, CYA, 2.0), (e_300, GRY, 1.8), (e_500, BLU, 2.0),
                  (e_c1, E1, 2.0), (e_c2, RED, 2.0), (e_c3, C3, 1.8), (e_c4, C4, 1.8)):
    trace(axE, pts, c, w)
peaks(axE, e_marks, e_text, 12, dotted=True, lw=3)
legend(comp_labels, [E1, RED, C3, C4], 154, 1150, 11, 1.55, 0.3, 0.52)
legend(rpm_labels, [PUR, CYA, GRY, BLU], 374, 1146, 11, 1.7, 0.13, 0.66)

for ax in (axA1, axA2, axB1, axB2, axC1, axC2, axD1, axD2, axE):
    finish(ax)

# ---------------- figure text ----------------
for s, x, y in (('A', 61, 40), ('B', 55, 374), ('C', 52, 603), ('D', 56, 886), ('E', 151, 987)):
    fig.text(*fpos(x, y), s, fontsize=22, ha='center', va='center')
fig.text(*fpos(170, 17), 'FeEs$_4$', fontsize=14, family='Liberation Serif', fontweight='bold', ha='center', va='center')
fig.text(*fpos(202, 498), 'FeTPP', fontsize=15, family='Liberation Serif', fontweight='bold', ha='center', va='center')
fig.text(*fpos(11, 227), 'Raman Intensity', rotation=90, fontsize=17, ha='center', va='center')
fig.text(*fpos(11, 710), 'Raman Intensity', rotation=90, fontsize=16.5, ha='center', va='center')
fig.text(*fpos(93, 1115), 'Raman Intensity', rotation=90, fontsize=11, fontweight='bold', ha='center', va='center')
fig.text(*fpos(527, 188), 'Wavenumber (cm⁻¹)', fontsize=13.5, fontweight='bold', ha='center', va='center')
fig.text(*fpos(348, 707), 'Wavenumber (cm⁻¹)', fontsize=13.5, fontweight='bold', ha='center', va='center')

for x, y0, y1 in ((350, 58, 214), (344, 514, 670)):
    fig.add_artist(Line2D([x / W, x / W], [1 - y0 / H, 1 - y1 / H], transform=fig.transFigure, color='black',
                          lw=2.6, dashes=(3.2, 2.0)))

fig.savefig('out.png', dpi=100)
